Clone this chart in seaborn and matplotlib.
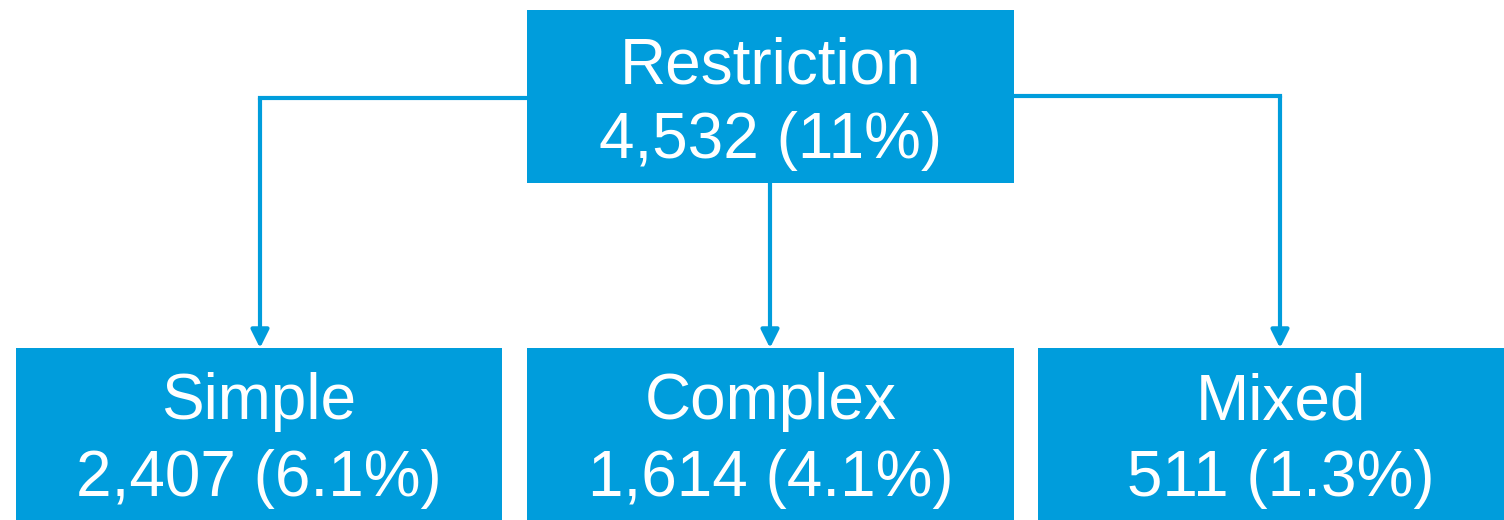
import matplotlib
matplotlib.use("Agg")
import matplotlib.pyplot as plt
import seaborn as sns
from matplotlib.patches import Rectangle

sns.set_theme(style="white")
plt.rcParams['font.family'] = ['Liberation Sans', 'DejaVu Sans']

# data
root_label = "Restriction"
root_count = "4,532"
root_pct = "11%"
child_labels = ["Simple", "Complex", "Mixed"]
child_counts = ["2,407", "1,614", "511"]
child_pcts = ["6.1%", "4.1%", "1.3%"]

BLUE = "#009DDC"
W, H = 1504, 520
fig = plt.figure(figsize=(W / 100, H / 100), dpi=100)
ax = fig.add_axes([0, 0, 1, 1])
ax.set_xlim(0, W)
ax.set_ylim(H, 0)
ax.axis("off")

FS = 46

# root box
root_box = (527, 10, 487, 173)
ax.add_patch(Rectangle((root_box[0], root_box[1]), root_box[2], root_box[3], color=BLUE, lw=0))
rcx = root_box[0] + root_box[2] / 2
ax.text(rcx, 84, root_label, ha="center", va="baseline", color="white", fontsize=FS)
ax.text(rcx, 158, f"{root_count} ({root_pct})", ha="center", va="baseline", color="white", fontsize=FS)

child_boxes = [(16, 348, 486, 172), (527, 348, 487, 172), (1038, 348, 486, 172)]
arrow_x = [260, 770, 1280]
for (x, y, w, h), lab, cnt, pct, ax_x in zip(child_boxes, child_labels, child_counts, child_pcts, arrow_x):
    ax.add_patch(Rectangle((x, y), w, h, color=BLUE, lw=0))
    cx = x + w / 2
    ax.text(cx, 419, lab, ha="center", va="baseline", color="white", fontsize=FS)
    ax.text(cx, 496, f"{cnt} ({pct})", ha="center", va="baseline", color="white", fontsize=FS)

# connectors
lw = 3
ax.plot([527, 260], [98, 98], color=BLUE, lw=lw, solid_capstyle="projecting")
ax.plot([1014, 1280], [96, 96], color=BLUE, lw=lw, solid_capstyle="projecting")
starts = [(260, 98), (770, 183), (1280, 96)]
for sx, sy in starts:
    ax.annotate("", xy=(sx, 348), xytext=(sx, sy),
                arrowprops=dict(arrowstyle="-|>,head_length=0.9,head_width=0.45", color=BLUE, lw=lw,
                                shrinkA=0, shrinkB=0))

fig.savefig("out.png", dpi=100)
